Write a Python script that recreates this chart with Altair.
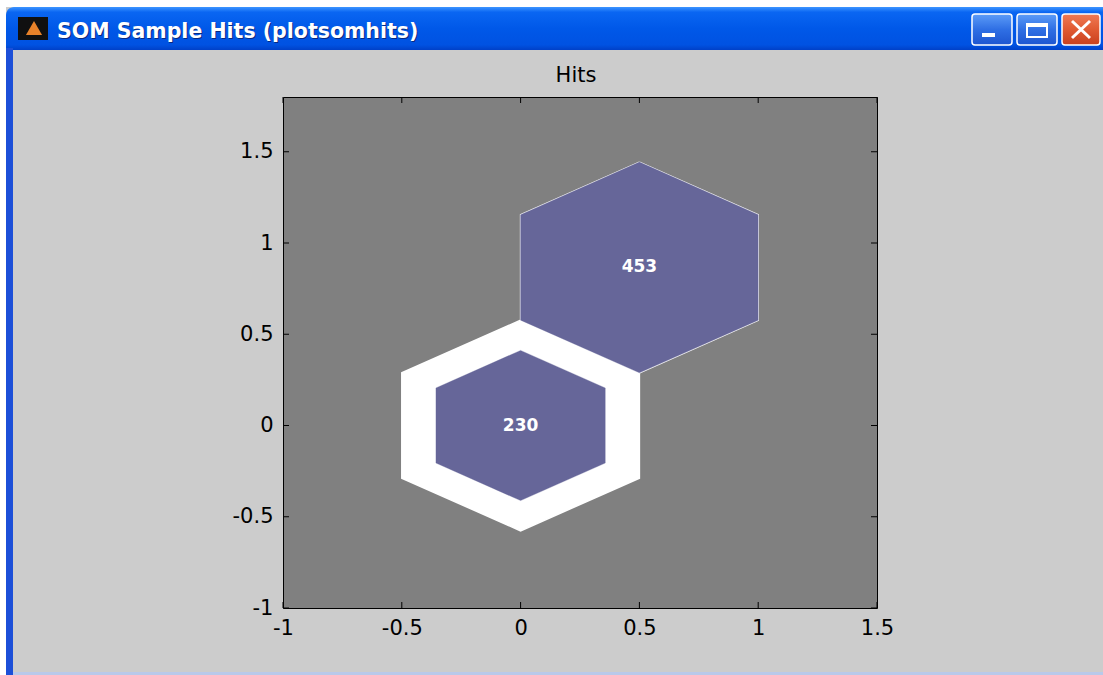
import math
import altair as alt
import pandas as pd

# ---------------- data ----------------
cell_x = [0.0, 0.5]          # neuron centres (x)
cell_y = [0.0, 0.866]        # neuron centres (y)
cell_hits = [230, 453]       # sample hits per neuron
x_ticks = [-1, -0.5, 0, 0.5, 1, 1.5]
y_ticks = [-1, -0.5, 0, 0.5, 1, 1.5]
chart_title = "Hits"
window_title = "SOM Sample Hits (plotsomhits)"

X_DOMAIN = [-1, 1.5]
Y_DOMAIN = [-1, 1.8]
W, H = 594, 511
PL, PT, PR, PB = 283, 97, 226, 67
FONT = "DejaVu Sans"
PURPLE = "#666699"


def hex_frame(scaled):
    rows = []
    mx = max(cell_hits)
    r0 = 1 / math.sqrt(3)
    for i, (cx, cy, h) in enumerate(zip(cell_x, cell_y, cell_hits)):
        r = r0 * (math.sqrt(h / mx) if scaled else 1.0)
        for k in range(7):
            a = math.radians(90 - 60 * (k % 6))
            rows.append({"cell": i, "k": k, "x": cx + r * math.cos(a), "y": cy + r * math.sin(a)})
    return pd.DataFrame(rows)


xs = alt.Scale(domain=X_DOMAIN, nice=False, zero=False)
ys = alt.Scale(domain=Y_DOMAIN, nice=False, zero=False)

x_axis = alt.Axis(values=x_ticks, labelExpr="'' + datum.value", ticks=False, domain=False, grid=False,
                  title=None, labelFont=FONT, labelFontSize=21, labelColor="black", labelPadding=9,
                  labelFlush=False, labelOverlap=False, labelBound=False)
y_axis = alt.Axis(values=y_ticks, labelExpr="'' + datum.value", ticks=False, domain=False, grid=False,
                  title=None, labelFont=FONT, labelFontSize=21, labelColor="black", labelPadding=10,
                  labelFlush=False, labelOverlap=False, labelBound=False)

outer = alt.Chart(hex_frame(False)).mark_line(fill="white", stroke="white", strokeWidth=1.5).encode(
    x=alt.X("x:Q", scale=xs, axis=x_axis),
    y=alt.Y("y:Q", scale=ys, axis=y_axis),
    detail="cell:N",
    order="k:Q",
)
inner = alt.Chart(hex_frame(True)).mark_line(fill=PURPLE, stroke=PURPLE, strokeWidth=0.3).encode(
    x=alt.X("x:Q", scale=xs),
    y=alt.Y("y:Q", scale=ys),
    detail="cell:N",
    order="k:Q",
)
labels = alt.Chart(pd.DataFrame({"x": cell_x, "y": cell_y, "hits": cell_hits})).mark_text(
    color="white", font=FONT, fontWeight="bold", fontSize=17, baseline="middle", align="center"
).encode(x=alt.X("x:Q", scale=xs), y=alt.Y("y:Q", scale=ys), text="hits:Q")

xt = pd.DataFrame({"v": x_ticks})
yt = pd.DataFrame({"v": y_ticks})
tick_b = alt.Chart(xt).mark_rule(color="black").encode(x=alt.X("v:Q", scale=xs), y=alt.value(H), y2=alt.value(H - 6))
tick_t = alt.Chart(xt).mark_rule(color="black").encode(x=alt.X("v:Q", scale=xs), y=alt.value(0), y2=alt.value(6))
tick_l = alt.Chart(yt).mark_rule(color="black").encode(y=alt.Y("v:Q", scale=ys), x=alt.value(0), x2=alt.value(6))
tick_r = alt.Chart(yt).mark_rule(color="black").encode(y=alt.Y("v:Q", scale=ys), x=alt.value(W), x2=alt.value(W - 6))

one = alt.Data(values=[{}])

title_mark = alt.Chart(one).mark_text(
    text=chart_title, font=FONT, fontSize=21, color="black", align="center", baseline="alphabetic"
).encode(x=alt.value(293), y=alt.value(82 - PT))


# ---------------- window chrome (absolute px -> plot-relative) ----------------
def box(x0, y0, x1, y1, **kw):
    return alt.Chart(one).mark_rect(**kw).encode(
        x=alt.value(x0 - PL), x2=alt.value(x1 - PL), y=alt.value(y0 - PT), y2=alt.value(y1 - PT))


def line(x0, y0, x1, y1, **kw):
    return alt.Chart(one).mark_rule(**kw).encode(
        x=alt.value(x0 - PL), x2=alt.value(x1 - PL), y=alt.value(y0 - PT), y2=alt.value(y1 - PT))


def grad(stops):
    return alt.LinearGradient(gradient="linear", x1=0, y1=0, x2=0, y2=1,
                              stops=[alt.GradientStop(color=c, offset=o) for o, c in stops])


bar_grad = grad([(0, "#3d95ff"), (0.12, "#0a66f2"), (0.5, "#0058e8"), (0.88, "#0052e2"), (1, "#0040c8")])
btn_grad = grad([(0, "#5c9cf8"), (0.5, "#2f6fe4"), (1, "#1d55d0")])
close_grad = grad([(0, "#f07a55"), (0.5, "#e05a32"), (1, "#c8401e")])

chrome = [
    box(0, 0, 1103, 7, color="white"),
    box(0, 0, 6, 675, color="white"),
    box(6, 7, 1103, 50, fill=bar_grad, cornerRadiusTopLeft=8),
    box(6, 48, 13, 675, color="#1c4fd8"),
    box(13, 672, 1103, 675, color="#b9c9ea"),
    box(18, 17, 48, 40, color="#101010"),
    alt.Chart(one).mark_point(shape="triangle-up", filled=True, color="#e8822a", opacity=1).encode(
        x=alt.value(34 - PL), y=alt.value(28 - PT), size=alt.value(260)),
    alt.Chart(one).mark_text(text=window_title, font=FONT, fontWeight="bold", fontSize=20.5,
                             color="#0a2a80", align="left", baseline="alphabetic").encode(
        x=alt.value(58 - PL), y=alt.value(39 - PT)),
    alt.Chart(one).mark_text(text=window_title, font=FONT, fontWeight="bold", fontSize=20.5,
                             color="white", align="left", baseline="alphabetic").encode(
        x=alt.value(57 - PL), y=alt.value(38 - PT)),
    box(972, 14, 1012, 45, fill=btn_grad, stroke="white", strokeWidth=1.5, cornerRadius=3),
    box(1017, 14, 1057, 45, fill=btn_grad, stroke="white", strokeWidth=1.5, cornerRadius=3),
    box(1062, 14, 1100, 45, fill=close_grad, stroke="white", strokeWidth=1.5, cornerRadius=3),
    box(982, 33, 995, 37, color="white"),
    box(1027, 24, 1047, 37, fill="transparent", stroke="white", strokeWidth=2),
    box(1027, 24, 1047, 27, color="white"),
    line(1072, 21, 1090, 38, color="white", strokeWidth=3),
    line(1072, 38, 1090, 21, color="white", strokeWidth=3),
]

chart = alt.layer(
    outer, inner, labels, tick_b, tick_t, tick_l, tick_r, title_mark, *chrome
).properties(
    width=W, height=H,
    autosize=alt.AutoSizeParams(type="none"),
    padding={"left": PL, "top": PT, "right": PR, "bottom": PB},
    background="#cccccc",
).configure_view(fill="#808080", stroke="black", strokeWidth=1)

chart.save("out.html", embed_options={"renderer": "svg", "actions": False})
